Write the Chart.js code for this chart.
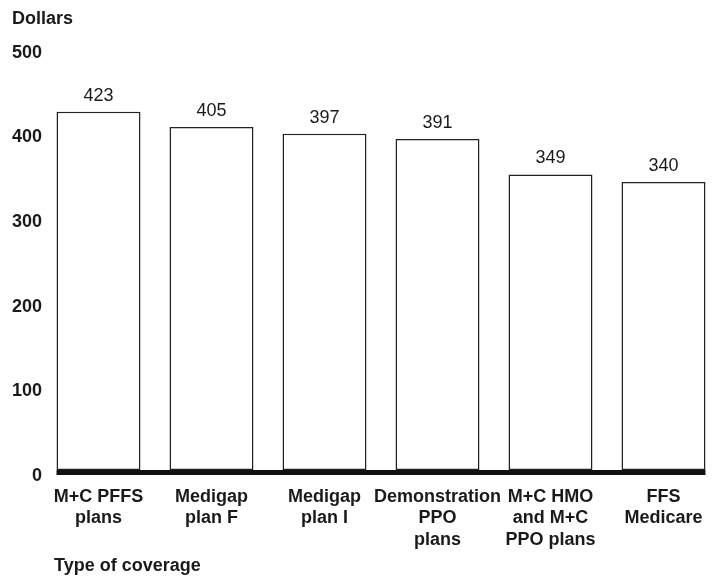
<!DOCTYPE html>
<html>
<head>
<meta charset="utf-8">
<script src="https://cdn.jsdelivr.net/npm/chart.js@4/dist/chart.umd.min.js"></script>
<style>
  html, body { margin: 0; padding: 0; background: #fff; overflow: hidden; }
  canvas { display: block; }
</style>
</head>
<body>
<canvas id="bar-chart" width="720" height="578"></canvas>
<script>
var categories = [
  ['M+C PFFS', 'plans'],
  ['Medigap', 'plan F'],
  ['Medigap', 'plan I'],
  ['Demonstration', 'PPO', 'plans'],
  ['M+C HMO', 'and M+C', 'PPO plans'],
  ['FFS', 'Medicare']
];
var dollars = [423, 405, 397, 391, 349, 340];
var yTicks = [0, 100, 200, 300, 400, 500];
var yTitle = 'Dollars';
var xTitle = 'Type of coverage';

var FONT = '"Liberation Sans", Arial, Helvetica, sans-serif';
Chart.defaults.font.family = FONT;
Chart.defaults.color = '#1a1a1a';

// value labels, thick zero line and x title
var extras = {
  id: 'extras',
  afterDatasetsDraw: function(chart) {
    var ctx = chart.ctx;
    var bars = chart.getDatasetMeta(0).data;
    var zeroY = chart.scales.y.getPixelForValue(0);
    var first = bars[0], last = bars[bars.length - 1];
    var left = first.x - first.width / 2;
    var right = last.x + last.width / 2;
    ctx.save();
    ctx.fillStyle = '#111';
    ctx.fillRect(left, zeroY, right - left, 5);

    ctx.font = '18px ' + FONT;
    ctx.textAlign = 'center';
    ctx.textBaseline = 'middle';
    ctx.fillStyle = '#1a1a1a';
    bars.forEach(function(bar, i) {
      ctx.fillText(String(dollars[i]), bar.x, bar.y - 16);
    });

    ctx.font = 'bold 18px ' + FONT;
    ctx.textAlign = 'left';
    ctx.fillText(xTitle, 54, 566);
    ctx.restore();
  }
};

new Chart(document.getElementById('bar-chart'), {
  type: 'bar',
  data: {
    labels: categories,
    datasets: [{
      data: dollars,
      backgroundColor: '#ffffff',
      borderColor: '#222222',
      borderWidth: 1.5,
      borderSkipped: false,
      categoryPercentage: 1,
      barPercentage: 0.743
    }]
  },
  options: {
    responsive: false,
    animation: false,
    devicePixelRatio: 1,
    layout: { padding: { left: 12, right: 0, top: 0, bottom: 0 } },
    plugins: {
      legend: { display: false },
      tooltip: { enabled: false },
      title: {
        display: true,
        text: yTitle,
        align: 'start',
        font: { size: 18, weight: 'bold' },
        padding: { top: 8, bottom: 17 }
      }
    },
    scales: {
      x: {
        grid: { display: false, drawTicks: false },
        border: { display: false },
        ticks: {
          padding: 16,
          maxRotation: 0,
          autoSkip: false,
          font: { size: 18, weight: 'bold', lineHeight: 1.2 }
        },
        afterFit: function(axis) { axis.height = 108; }
      },
      y: {
        min: 0,
        max: 500,
        afterBuildTicks: function(axis) {
          axis.ticks = yTicks.map(function(v) { return { value: v }; });
        },
        grid: { display: false, drawTicks: false },
        border: { display: false },
        ticks: {
          padding: 0,
          labelOffset: 6,
          font: { size: 18, weight: 'bold' }
        },
        afterFit: function(axis) { axis.width = 30; }
      }
    }
  },
  plugins: [extras]
});
</script>
</body>
</html>
